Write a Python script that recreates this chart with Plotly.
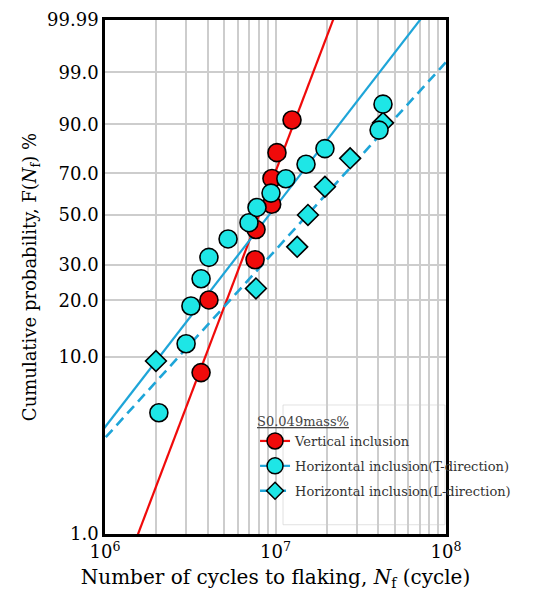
import numpy as np
import plotly.graph_objects as go

# ---------------- data ----------------
# Vertical inclusion
vert_N = [3.66e6, 4.07e6, 7.59e6, 7.69e6, 9.50e6, 9.53e6, 1.02e7, 1.25e7]
vert_F = [8.2, 20.1, 31.8, 43.5, 55.0, 67.5, 79.5, 91.3]
# Horizontal inclusion (T-direction)
horT_N = [2.07e6, 2.99e6, 3.19e6, 3.66e6, 4.07e6, 5.27e6, 6.99e6, 7.79e6,
          9.41e6, 1.15e7, 1.51e7, 1.95e7, 4.05e7, 4.27e7]
horT_F = [4.9, 11.8, 18.7, 25.7, 32.6, 39.6, 46.5, 53.5,
          60.4, 67.4, 74.3, 81.2, 88.2, 95.1]
# Horizontal inclusion (L-direction)
horL_N = [1.99e6, 7.68e6, 1.34e7, 1.55e7, 1.95e7, 2.74e7, 4.27e7]
horL_F = [9.5, 23.0, 36.5, 50.0, 63.5, 77.0, 90.5]

# Weibull fit lines: shape m, scale eta (cycles)
vert_fit = (2.59, 9.23e6)
horT_fit = (1.27, 1.225e7)
horL_fit = (1.083, 2.157e7)

# axis ticks
y_tick_pct = [1.0, 10.0, 20.0, 30.0, 50.0, 70.0, 90.0, 99.0, 99.99]
y_tick_text = ["1.0", "10.0", "20.0", "30.0", "50.0", "70.0", "90.0", "99.0", "99.99"]
x_tick_vals = [1e6, 1e7, 1e8]
x_tick_text = ["10<sup>6</sup>", "10<sup>7</sup>", "10<sup>8</sup>"]
x_minor_vals = [k * 10.0 ** e for e in (6, 7) for k in range(2, 10)]

legend_names = ["Vertical inclusion",
                "Horizontal inclusion(T-direction)",
                "Horizontal inclusion(L-direction)"]


def weib(F_pct):
    F = np.asarray(F_pct, dtype=float) / 100.0
    return np.log(-np.log(1.0 - F))


def fit_line(params):
    m, eta = params
    N = np.array([10 ** 5.5, 10 ** 8.5])
    return N, m * (np.log(N) - np.log(eta))


RED = "#f00a0a"
CYAN = "#1ee6e6"
BLUE = "#1ea5d8"
FONT = "DejaVu Serif"

fig = go.Figure()

# fit lines (legend entries; markers sit outside the axes and are clipped)
for name, params, lcol, dash, mcol, sym, msz in [
    (legend_names[0], vert_fit, RED, "solid", RED, "circle", 16),
    (legend_names[1], horT_fit, BLUE, "solid", CYAN, "circle", 16),
    (legend_names[2], horL_fit, BLUE, "10px,6px", CYAN, "diamond", 13),
]:
    xn, yw = fit_line(params)
    fig.add_trace(go.Scatter(
        x=xn, y=yw, mode="lines+markers", name=name, legendgroup=name,
        line=dict(color=lcol, width=2.2 if dash == "solid" else 2.6, dash=dash),
        marker=dict(color=mcol, symbol=sym, size=msz,
                    line=dict(color="black", width=1.5)),
        hoverinfo="skip"))

# data points
fig.add_trace(go.Scatter(
    x=vert_N, y=weib(vert_F), mode="markers", showlegend=False,
    marker=dict(color=RED, size=18, symbol="circle",
                line=dict(color="black", width=1.6))))
fig.add_trace(go.Scatter(
    x=horL_N, y=weib(horL_F), mode="markers", showlegend=False,
    marker=dict(color=CYAN, size=16, symbol="diamond",
                line=dict(color="black", width=1.6))))
fig.add_trace(go.Scatter(
    x=horT_N, y=weib(horT_F), mode="markers", showlegend=False,
    marker=dict(color=CYAN, size=18, symbol="circle",
                line=dict(color="black", width=1.6))))

GRID = "#cdcdcd"
fig.update_xaxes(
    type="log", range=[6, 8], automargin=False,
    tickvals=x_tick_vals, ticktext=x_tick_text,
    tickfont=dict(family=FONT, size=18, color="black"),
    showgrid=True, gridcolor=GRID, gridwidth=1.5,
    minor=dict(tickvals=x_minor_vals, showgrid=True, gridcolor=GRID, gridwidth=1.5),
    showline=True, linecolor="black", linewidth=2.5, mirror=True,
    ticks="", zeroline=False,
    title=dict(text="Number of cycles to flaking, <i>N</i><sub>f</sub> (cycle)",
               font=dict(family=FONT, size=20, color="black"), standoff=9),
)
fig.update_yaxes(
    range=[float(weib([1.0])[0]), float(weib([99.99])[0])], automargin=False,
    tickvals=weib(y_tick_pct), ticktext=y_tick_text,
    tickfont=dict(family=FONT, size=18, color="black"),
    showgrid=True, gridcolor=GRID, gridwidth=1.5,
    showline=True, linecolor="black", linewidth=2.5, mirror=True,
    ticks="", zeroline=False,
    title=dict(text="Cumulative probability, F(<i>N</i><sub>f</sub>) %",
               font=dict(family=FONT, size=18, color="black"), standoff=6),
)

fig.add_shape(type="rect", xref="paper", yref="paper",
              x0=0.522, x1=0.997, y0=0.018, y1=0.251,
              fillcolor="rgba(255,255,255,0.8)",
              line=dict(color="rgba(205,205,205,0.6)", width=1), layer="between")

fig.update_layout(
    width=544, height=584,
    margin=dict(l=97, r=106, t=12, b=58, autoexpand=False),
    paper_bgcolor="white", plot_bgcolor="white",
    showlegend=True,
    legend=dict(
        x=0.44, y=0.243, xanchor="left", yanchor="top",
        bgcolor="rgba(0,0,0,0)", borderwidth=0,
        font=dict(family=FONT, size=13, color="#333333"),
        title=dict(text="<u>S0.049mass%</u>",
                   font=dict(family=FONT, size=13, color="#444444")),
        traceorder="grouped", tracegroupgap=5,
    ),
    font=dict(family=FONT, color="black"),
)

fig.write_html("out.html")
